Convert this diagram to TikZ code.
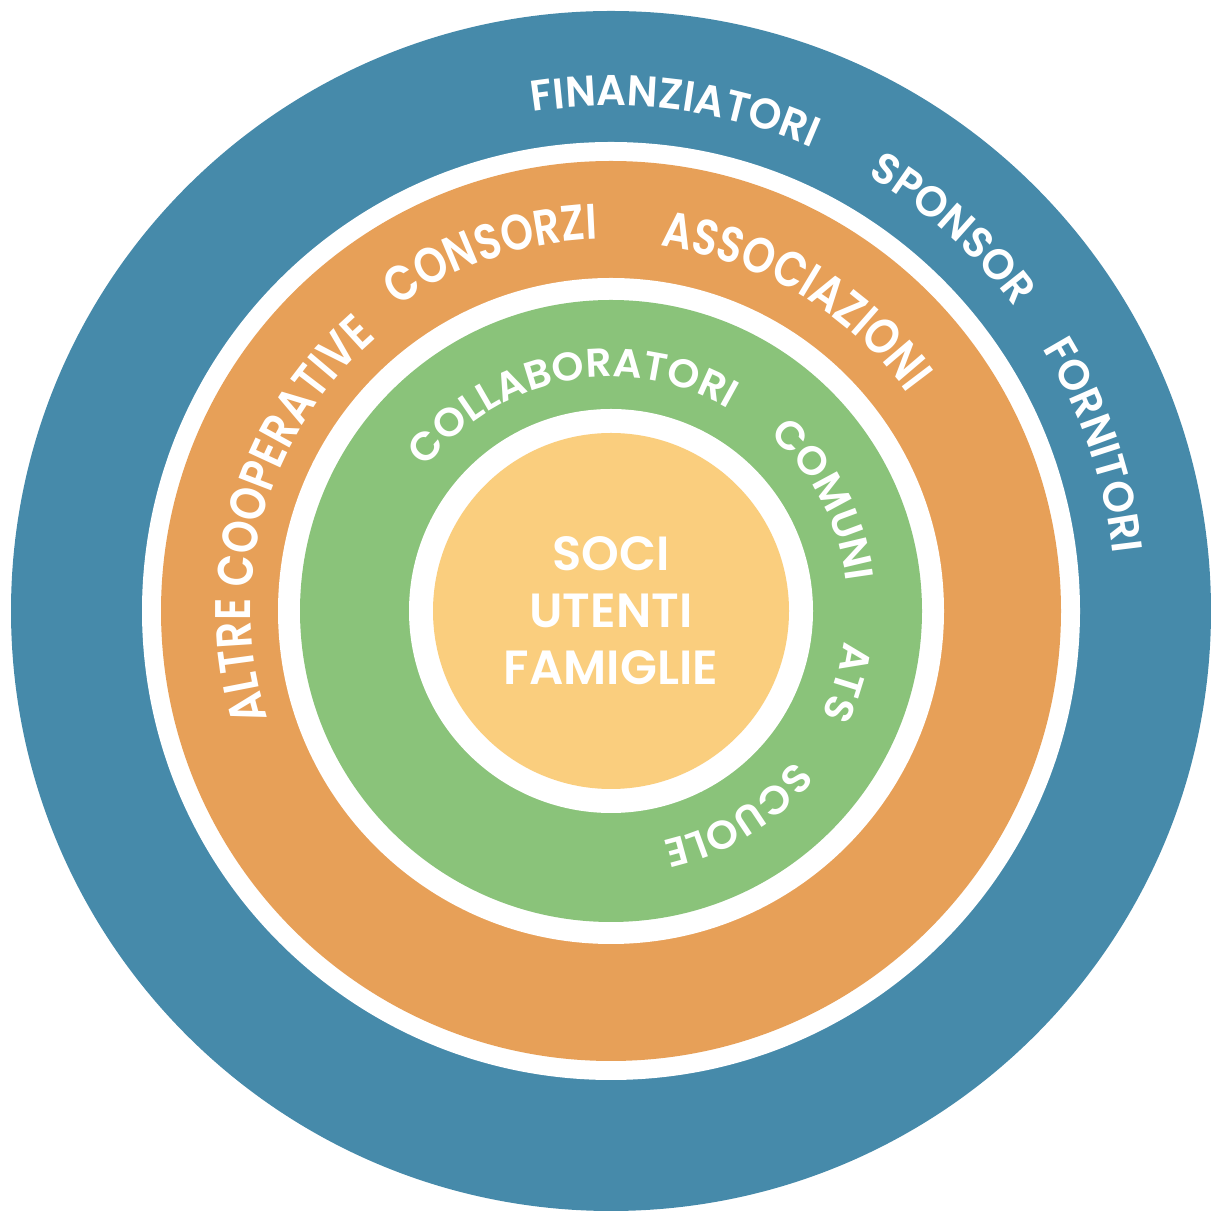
\documentclass[tikz,border=0pt]{standalone}
\usepackage{fontspec}
\setmainfont{Poppins}[BoldFont={Poppins SemiBold}]
\newfontfamily\bluefont{Poppins SemiBold}[FakeStretch=0.97]
\newfontfamily\orangefont{Poppins SemiBold}[FakeStretch=0.83]
\newfontfamily\greenfont{Poppins SemiBold}[FakeStretch=1.02]
\usetikzlibrary{decorations.text,calc}
\definecolor{ringblue}{HTML}{468AAA}
\definecolor{ringorange}{HTML}{E7A058}
\definecolor{ringgreen}{HTML}{8AC37A}
\definecolor{ringyellow}{HTML}{FACE7E}
\newcommand\ringword[4]{%
  \path[decorate,decoration={text along path,text align=center,
    text={|#3\color{white}|#4}}]
    ($(c)+(#1+70:#2)$) arc[start angle=#1+70,end angle=#1-70,radius=#2];}
\newcommand\bluetext{\bluefont\fontsize{43pt}{43pt}\selectfont}
\newcommand\orangetext{\orangefont\fontsize{50pt}{50pt}\selectfont}
\newcommand\greentext{\greenfont\fontsize{40pt}{40pt}\selectfont}
\begin{document}
\begin{tikzpicture}[x=1pt,y=1pt]
\useasboundingbox (0,0) rectangle (1210,1218);
\coordinate (c) at (611,607);
\fill[ringblue] (c) circle[radius=600pt];
\fill[white] (c) circle[radius=469pt];
\fill[ringorange] (c) circle[radius=450pt];
\fill[white] (c) circle[radius=333pt];
\fill[ringgreen] (c) circle[radius=311pt];
\fill[white] (c) circle[radius=202pt];
\fill[ringyellow] (c) circle[radius=178pt];
% blue ring
\ringword{82.7}{505pt}{\bluetext}{FINANZIATORI}
\ringword{48.2}{505pt}{\bluetext}{SPONSOR}
\ringword{18.9}{505pt}{\bluetext}{FORNITORI}
% orange ring
\ringword{164}{360pt}{\orangetext}{ALTRE COOPERATIVE}
\ringword{108.5}{372pt}{\orangetext}{CONSORZI}
\ringword{59.3}{368pt}{\orangetext}{ASSOCIAZIONI}
% green ring
\ringword{101}{234pt}{\greentext}{COLLABORATORI}
\ringword{27.5}{237pt}{\greentext}{COMUNI}
\ringword{-16.8}{235pt}{\greentext}{ATS}
\ringword{-58.3}{236pt}{\greentext}{SCUOLE}
% centre
\node[font=\fontsize{48pt}{57pt}\selectfont\bfseries, text=white, align=center] (core) at (c) {SOCI\\UTENTI\\FAMIGLIE};
\end{tikzpicture}
\end{document}
